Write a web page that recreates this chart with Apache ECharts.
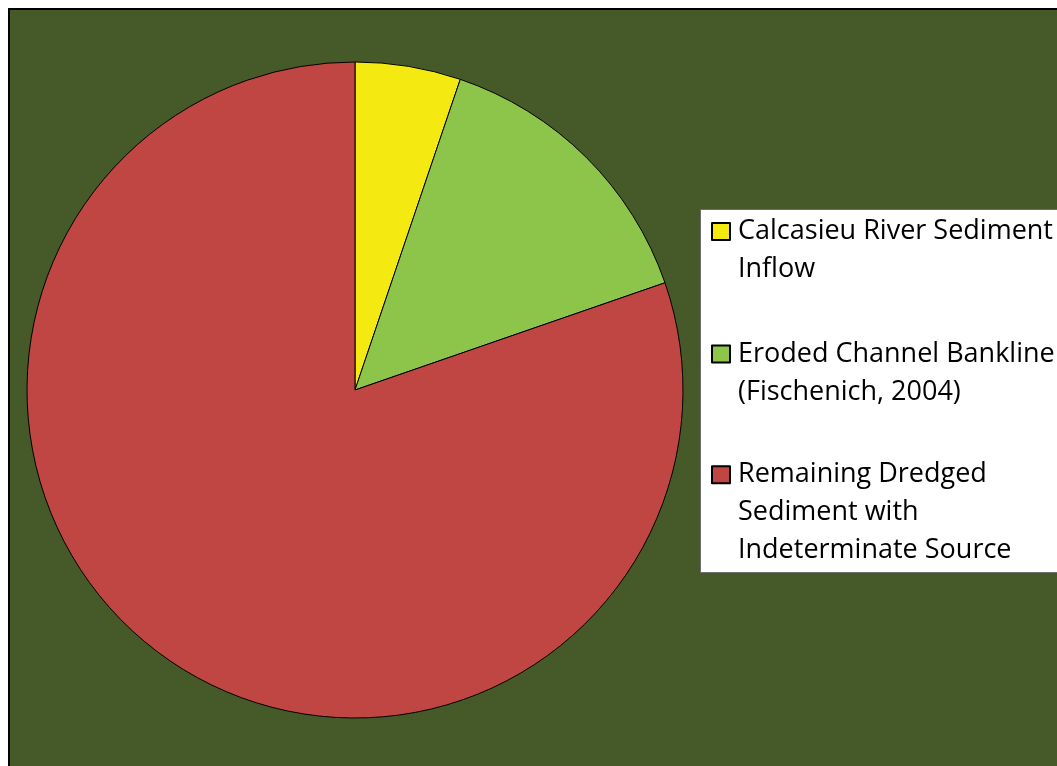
<!DOCTYPE html>
<html>
<head>
<meta charset="utf-8">
<script src="https://cdn.jsdelivr.net/npm/echarts@6/dist/echarts.min.js"></script>
<style>
  html, body { margin: 0; padding: 0; background: #ffffff; }
  #chart { width: 1057px; height: 766px; }
</style>
</head>
<body>
<div id="chart"></div>
<script>
// Sources of dredged sediment (share of total, %)
const categories = [
  'Calcasieu River Sediment Inflow',
  'Eroded Channel Bankline (Fischenich, 2004)',
  'Remaining Dredged Sediment with Indeterminate Source'
];
const shares = [5.2, 14.5, 80.3];
const colors = ['#F4EA12', '#8DC54B', '#C04643'];
// Wrapped legend lines for each category
const legendLines = [
  ['Calcasieu River Sediment', 'Inflow'],
  ['Eroded Channel Bankline', '(Fischenich, 2004)'],
  ['Remaining Dredged', 'Sediment with', 'Indeterminate Source']
];
// Vertical centre of each legend swatch
const legendIconY = [231.5, 354, 474.7];

const LINE_H = 38;

const chart = echarts.init(document.getElementById('chart'), null, { renderer: 'canvas' });

// One legend per entry so the swatch lines up with the first text line
const legends = categories.map(function (name, i) {
  const lines = legendLines[i];
  // pad with blank lines above so the first line sits at the block's middle
  const blanks = lines.length - 1;
  const text = '\n'.repeat(blanks) + lines.join('\n');
  const blockH = (blanks + lines.length) * LINE_H;
  return {
    show: true,
    data: [name],
    orient: 'vertical',
    left: 711,
    top: legendIconY[i] - blockH / 2,
    padding: 0,
    itemWidth: 18,
    itemHeight: 17,
    itemGap: 0,
    icon: 'rect',
    selectedMode: false,
    z: 10,
    formatter: function () { return text; },
    textStyle: {
      fontFamily: 'Open Sans',
      fontSize: 27,
      lineHeight: LINE_H,
      color: '#000000',
      padding: [0, 0, 0, 3]
    }
  };
});

chart.setOption({
  backgroundColor: '#ffffff',
  animation: false,
  color: colors,
  graphic: [
    {
      type: 'rect',
      z: 0,
      silent: true,
      shape: { x: 9, y: 9, width: 1100, height: 800 },
      style: { fill: '#465A29', stroke: '#000000', lineWidth: 2 }
    },
    {
      type: 'rect',
      z: 1,
      silent: true,
      shape: { x: 700.5, y: 209.5, width: 400, height: 363 },
      style: { fill: '#ffffff', stroke: '#6e6e6e', lineWidth: 1 }
    }
  ],
  legend: legends,
  series: [{
    type: 'pie',
    z: 5,
    center: [355, 390],
    radius: 328,
    startAngle: 90,
    clockwise: true,
    silent: true,
    label: { show: false },
    labelLine: { show: false },
    emphasis: { disabled: true },
    itemStyle: { borderColor: '#000000', borderWidth: 1 },
    data: categories.map(function (name, i) {
      return { name: name, value: shares[i] };
    })
  }]
});
</script>
</body>
</html>
